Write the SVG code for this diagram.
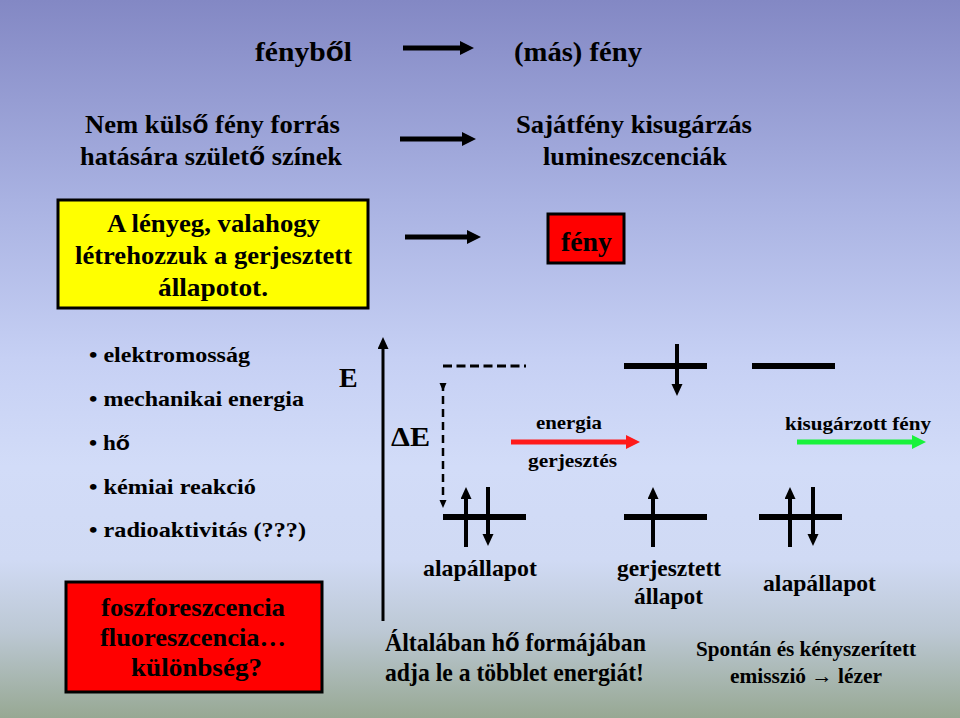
<svg xmlns="http://www.w3.org/2000/svg" width="960" height="718" viewBox="0 0 960 718" font-family="Liberation Serif, Times New Roman, serif" font-weight="bold">
<defs>
<linearGradient id="bg" x1="0" y1="0" x2="0" y2="1">
<stop offset="0" stop-color="#8388c4"/>
<stop offset="0.28" stop-color="#a9b2e2"/>
<stop offset="0.5" stop-color="#c6d0f4"/>
<stop offset="0.65" stop-color="#d2dcf8"/>
<stop offset="0.78" stop-color="#d0daf4"/>
<stop offset="0.88" stop-color="#bcc8d4"/>
<stop offset="1" stop-color="#97a893"/>
</linearGradient>
<marker id="hb" markerUnits="userSpaceOnUse" markerWidth="16" markerHeight="16" refX="0" refY="7" orient="auto"><path d="M0,0 L14,7 L0,14 z" fill="#000"/></marker>
<marker id="hl" markerUnits="userSpaceOnUse" markerWidth="14" markerHeight="14" refX="0" refY="5.5" orient="auto"><path d="M0,0 L12,5.5 L0,11 z" fill="#000"/></marker>
<marker id="hs" markerUnits="userSpaceOnUse" markerWidth="10" markerHeight="10" refX="0" refY="3.5" orient="auto"><path d="M0,0 L8,3.5 L0,7 z" fill="#000"/></marker>
<marker id="hr" markerUnits="userSpaceOnUse" markerWidth="16" markerHeight="16" refX="0" refY="7" orient="auto"><path d="M0,0 L14,7 L0,14 z" fill="#ff1a1a"/></marker>
<marker id="hg" markerUnits="userSpaceOnUse" markerWidth="16" markerHeight="16" refX="0" refY="7" orient="auto"><path d="M0,0 L14,7 L0,14 z" fill="#19f23c"/></marker>
</defs>
<style>
.t26{font-size:28px}
.t24{font-size:25px}
.t22{font-size:23px}
.t20{font-size:21px}
.t18{font-size:19px}
.s{font-family:"Liberation Sans",Arial,sans-serif}
.lvl{stroke:#000;stroke-width:6;fill:none}
.sp{stroke:#000;stroke-width:4;fill:none}
.big{stroke:#000;stroke-width:5;fill:none}
</style>
<rect x="0" y="0" width="960" height="718" fill="url(#bg)"/>

<g id="top-row">
<text class="t26" x="255" y="61" textLength="97" lengthAdjust="spacingAndGlyphs">fényb<tspan class="s">ő</tspan>l</text>
<text class="t26" x="514" y="61" textLength="128" lengthAdjust="spacingAndGlyphs">(más) fény</text>
</g>
<g id="second-row">
<text class="t24" x="85" y="133" textLength="255" lengthAdjust="spacingAndGlyphs">Nem küls<tspan class="s">ő</tspan> fény forrás</text>
<text class="t24" x="80" y="165" textLength="262" lengthAdjust="spacingAndGlyphs">hatására szület<tspan class="s">ő</tspan> színek</text>
<text class="t24" x="516" y="133" textLength="236" lengthAdjust="spacingAndGlyphs">Sajátfény kisugárzás</text>
<text class="t24" x="543" y="165" textLength="184" lengthAdjust="spacingAndGlyphs">lumineszcenciák</text>
</g>
<g id="yellow-box">
<rect x="58" y="200" width="310" height="108" fill="#ffff00" stroke="#000" stroke-width="3"/>
<text class="t24" x="107" y="232" textLength="213" lengthAdjust="spacingAndGlyphs">A lényeg, valahogy</text>
<text class="t24" x="75" y="264" textLength="277" lengthAdjust="spacingAndGlyphs">létrehozzuk a gerjesztett</text>
<text class="t24" x="158" y="296" textLength="110" lengthAdjust="spacingAndGlyphs">állapotot.</text>
</g>
<g id="feny-box">
<rect x="548" y="214" width="76" height="49" fill="#ff0000" stroke="#000" stroke-width="3"/>
<text class="t26" x="561" y="251" textLength="51" lengthAdjust="spacingAndGlyphs">fény</text>
</g>
<g id="bullets">
<text class="t20" x="89" y="362" textLength="161" lengthAdjust="spacingAndGlyphs">• elektromosság</text>
<text class="t20" x="89" y="406" textLength="215" lengthAdjust="spacingAndGlyphs">• mechanikai energia</text>
<text class="t20" x="89" y="450" textLength="41" lengthAdjust="spacingAndGlyphs">• h<tspan class="s">ő</tspan></text>
<text class="t20" x="89" y="494" textLength="167" lengthAdjust="spacingAndGlyphs">• kémiai reakció</text>
<text class="t20" x="89" y="537" textLength="217" lengthAdjust="spacingAndGlyphs">• radioaktivitás (???)</text>
</g>
<g id="energy-diagram">
<text class="t26" x="339" y="387">E</text>
<text class="t26" x="391" y="446" textLength="39" lengthAdjust="spacingAndGlyphs">ΔE</text>
<text class="t18" x="536" y="429" textLength="66" lengthAdjust="spacingAndGlyphs">energia</text>
<text class="t18" x="528" y="467" textLength="89" lengthAdjust="spacingAndGlyphs">gerjesztés</text>
<text class="t18" x="785" y="430" textLength="146" lengthAdjust="spacingAndGlyphs">kisugárzott fény</text>
<line class="lvl" x1="443" y1="517" x2="526" y2="517"/>
<line class="lvl" x1="624" y1="366" x2="707" y2="366"/>
<line class="lvl" x1="624" y1="517" x2="707" y2="517"/>
<line class="lvl" x1="752" y1="366" x2="835" y2="366"/>
<line class="lvl" x1="759" y1="517" x2="842" y2="517"/>
</g>
<g id="connectors">
<line class="big" x1="403" y1="48" x2="460" y2="48" marker-end="url(#hb)"/>
<line class="big" x1="400" y1="139" x2="462" y2="139" marker-end="url(#hb)"/>
<line class="big" x1="405" y1="237" x2="467" y2="237" marker-end="url(#hb)"/>
<line x1="383" y1="621" x2="383" y2="349" stroke="#000" stroke-width="3" marker-end="url(#hl)"/>
<line x1="443" y1="366" x2="526" y2="366" stroke="#000" stroke-width="3" stroke-dasharray="9,4.5"/>
<line x1="443" y1="383" x2="443" y2="500" stroke="#000" stroke-width="2.5" stroke-dasharray="8,5" marker-start="url(#hs)" marker-end="url(#hs)"/>
<line x1="511" y1="442" x2="626" y2="442" stroke="#ff1a1a" stroke-width="5" marker-end="url(#hr)"/>
<line x1="797" y1="442" x2="912" y2="442" stroke="#19f23c" stroke-width="5" marker-end="url(#hg)"/>
<line class="sp" x1="466" y1="547" x2="466" y2="499" marker-end="url(#hl)"/>
<line class="sp" x1="488" y1="487" x2="488" y2="534" marker-end="url(#hl)"/>
<line class="sp" x1="677" y1="344" x2="677" y2="384" marker-end="url(#hl)"/>
<line class="sp" x1="653" y1="547" x2="653" y2="499" marker-end="url(#hl)"/>
<line class="sp" x1="790" y1="547" x2="790" y2="499" marker-end="url(#hl)"/>
<line class="sp" x1="813" y1="487" x2="813" y2="534" marker-end="url(#hl)"/>
</g>
<g id="state-labels">
<text class="t22" x="423" y="576" textLength="114" lengthAdjust="spacingAndGlyphs">alapállapot</text>
<text class="t22" x="617" y="576" textLength="104" lengthAdjust="spacingAndGlyphs">gerjesztett</text>
<text class="t22" x="634" y="604" textLength="69" lengthAdjust="spacingAndGlyphs">állapot</text>
<text class="t22" x="763" y="591" textLength="113" lengthAdjust="spacingAndGlyphs">alapállapot</text>
</g>
<g id="red-box">
<rect x="66" y="582" width="256" height="110" fill="#ff0000" stroke="#000" stroke-width="3"/>
<text class="t24" x="101" y="616" textLength="184" lengthAdjust="spacingAndGlyphs">foszforeszcencia</text>
<text class="t24" x="100" y="646" textLength="186" lengthAdjust="spacingAndGlyphs">fluoreszcencia…</text>
<text class="t24" x="131" y="676" textLength="131" lengthAdjust="spacingAndGlyphs">különbség?</text>
</g>
<g id="bottom-notes">
<text class="t24" x="385" y="651" textLength="261" lengthAdjust="spacingAndGlyphs">Általában h<tspan class="s">ő</tspan> formájában</text>
<text class="t24" x="385" y="681" textLength="259" lengthAdjust="spacingAndGlyphs">adja le a többlet energiát!</text>
<text class="t20" x="696" y="656" textLength="220" lengthAdjust="spacingAndGlyphs">Spontán és kényszerített</text>
<text class="t20" x="730" y="683" textLength="152" lengthAdjust="spacingAndGlyphs">emisszió → lézer</text>
</g>
</svg>
